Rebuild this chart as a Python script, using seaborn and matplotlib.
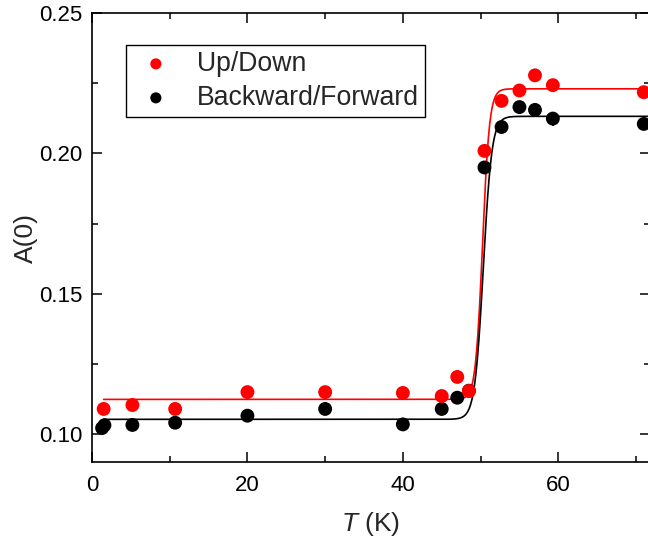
import numpy as np
import pandas as pd
import matplotlib
matplotlib.use("Agg")
import matplotlib.pyplot as plt
import seaborn as sns
from matplotlib.ticker import MultipleLocator, FormatStrFormatter

# ---- data ----
T_up = [1.5, 5.2, 10.7, 20.0, 30.0, 40.0, 45.0, 47.0, 48.5, 50.5, 52.7, 55.0, 57.0, 59.3, 71.0]
A_up = [0.109, 0.1104, 0.109, 0.115, 0.115, 0.1147, 0.1136, 0.1204, 0.1154, 0.2009,
        0.2187, 0.2224, 0.2278, 0.2243, 0.2218]
err_up = [0.0015, 0.0015, 0.0015, 0.0015, 0.0015, 0.0015, 0.0015, 0.002, 0.002, 0.002,
          0.002, 0.002, 0.002, 0.002, 0.002]

T_bf = [1.3, 1.6, 5.2, 10.7, 20.0, 30.0, 40.0, 45.0, 47.0, 48.5, 50.5, 52.7, 55.0, 57.0, 59.3, 71.0]
A_bf = [0.1022, 0.1032, 0.1033, 0.1041, 0.1066, 0.109, 0.1035, 0.109, 0.113, 0.1155, 0.195,
        0.2094, 0.2165, 0.2155, 0.2124, 0.2105]
err_bf = [0.0012, 0.0012, 0.0012, 0.0012, 0.0012, 0.0012, 0.0012, 0.0015, 0.002, 0.002, 0.002,
          0.002, 0.002, 0.002, 0.0025, 0.002]

# fitted step (logistic) parameters: low, high, centre, width
fit_up = [0.1124, 0.2230, 50.25, 0.45]
fit_bf = [0.1053, 0.2132, 50.35, 0.55]

labels = ["Up/Down", "Backward/Forward"]
colors = ["#ff0000", "#000000"]


def step(T, p):
    low, high, xc, w = p
    return low + (high - low) / (1.0 + np.exp(-(T - xc) / w))


T_fit = np.linspace(1.5, 72.0, 800)

df_up = pd.DataFrame({"T": T_up, "A": A_up, "err": err_up})
df_bf = pd.DataFrame({"T": T_bf, "A": A_bf, "err": err_bf})
df_fit_up = pd.DataFrame({"T": T_fit, "A": step(T_fit, fit_up)})
df_fit_bf = pd.DataFrame({"T": T_fit, "A": step(T_fit, fit_bf)})

sns.set_theme(style="ticks")
plt.rcParams["font.family"] = ["Liberation Sans", "DejaVu Sans"]
plt.rcParams["mathtext.fontset"] = "custom"
plt.rcParams["mathtext.it"] = "Liberation Sans:italic"
plt.rcParams["mathtext.rm"] = "Liberation Sans"

fig = plt.figure(figsize=(6.48, 5.4), dpi=100)
ax = fig.add_axes([92 / 648, 77.7 / 540, 558 / 648, 449.3 / 540])

# fit lines
sns.lineplot(data=df_fit_up, x="T", y="A", color=colors[0], lw=1.2, ax=ax, zorder=2)
sns.lineplot(data=df_fit_bf, x="T", y="A", color=colors[1], lw=1.2, ax=ax, zorder=2)

# error bars
ax.errorbar(df_bf["T"], df_bf["A"], yerr=df_bf["err"], fmt="none", ecolor=colors[1],
            elinewidth=1.2, capsize=0, zorder=3)
ax.errorbar(df_up["T"], df_up["A"], yerr=df_up["err"], fmt="none", ecolor=colors[0],
            elinewidth=1.2, capsize=0, zorder=5)

# points
sns.scatterplot(data=df_bf, x="T", y="A", color=colors[1], s=100, edgecolor="none",
                ax=ax, zorder=4, label=labels[1])
sns.scatterplot(data=df_up, x="T", y="A", color=colors[0], s=100, edgecolor="none",
                ax=ax, zorder=6, label=labels[0])

ax.set_xlim(0, 71.8)
ax.set_ylim(0.09, 0.25)
ax.xaxis.set_major_locator(MultipleLocator(20))
ax.xaxis.set_minor_locator(MultipleLocator(10))
ax.yaxis.set_major_locator(MultipleLocator(0.05))
ax.yaxis.set_minor_locator(MultipleLocator(0.025))
ax.tick_params(which="both", direction="in", top=True, right=True, width=1.1,
               labelsize=16, colors="black")
ax.tick_params(which="major", length=7)
ax.tick_params(which="minor", length=4)
ax.tick_params(axis="x", which="major", pad=9)
ax.tick_params(axis="y", which="major", pad=7)
ax.yaxis.set_major_formatter(FormatStrFormatter("%.2f"))
for s in ax.spines.values():
    s.set_linewidth(1.2)
    s.set_color("black")

ax.set_ylabel("A(0)", fontsize=19, labelpad=1)
ax.set_xlabel(r"$\mathit{T}$ (K)", fontsize=19, labelpad=10)

h, l = ax.get_legend_handles_labels()
order = [l.index(labels[0]), l.index(labels[1])]
leg = ax.legend([h[i] for i in order], [l[i] for i in order], loc="upper left",
                bbox_to_anchor=(34 / 558, 1 - 32 / 449.3), borderaxespad=0,
                fontsize=19.2, frameon=True, fancybox=False, edgecolor="black",
                framealpha=1, markerscale=0.8, handletextpad=0.65, borderpad=0.22,
                labelspacing=0.3, handlelength=1.8)
leg.get_frame().set_linewidth(1.0)

fig.savefig("out.png", dpi=100)
